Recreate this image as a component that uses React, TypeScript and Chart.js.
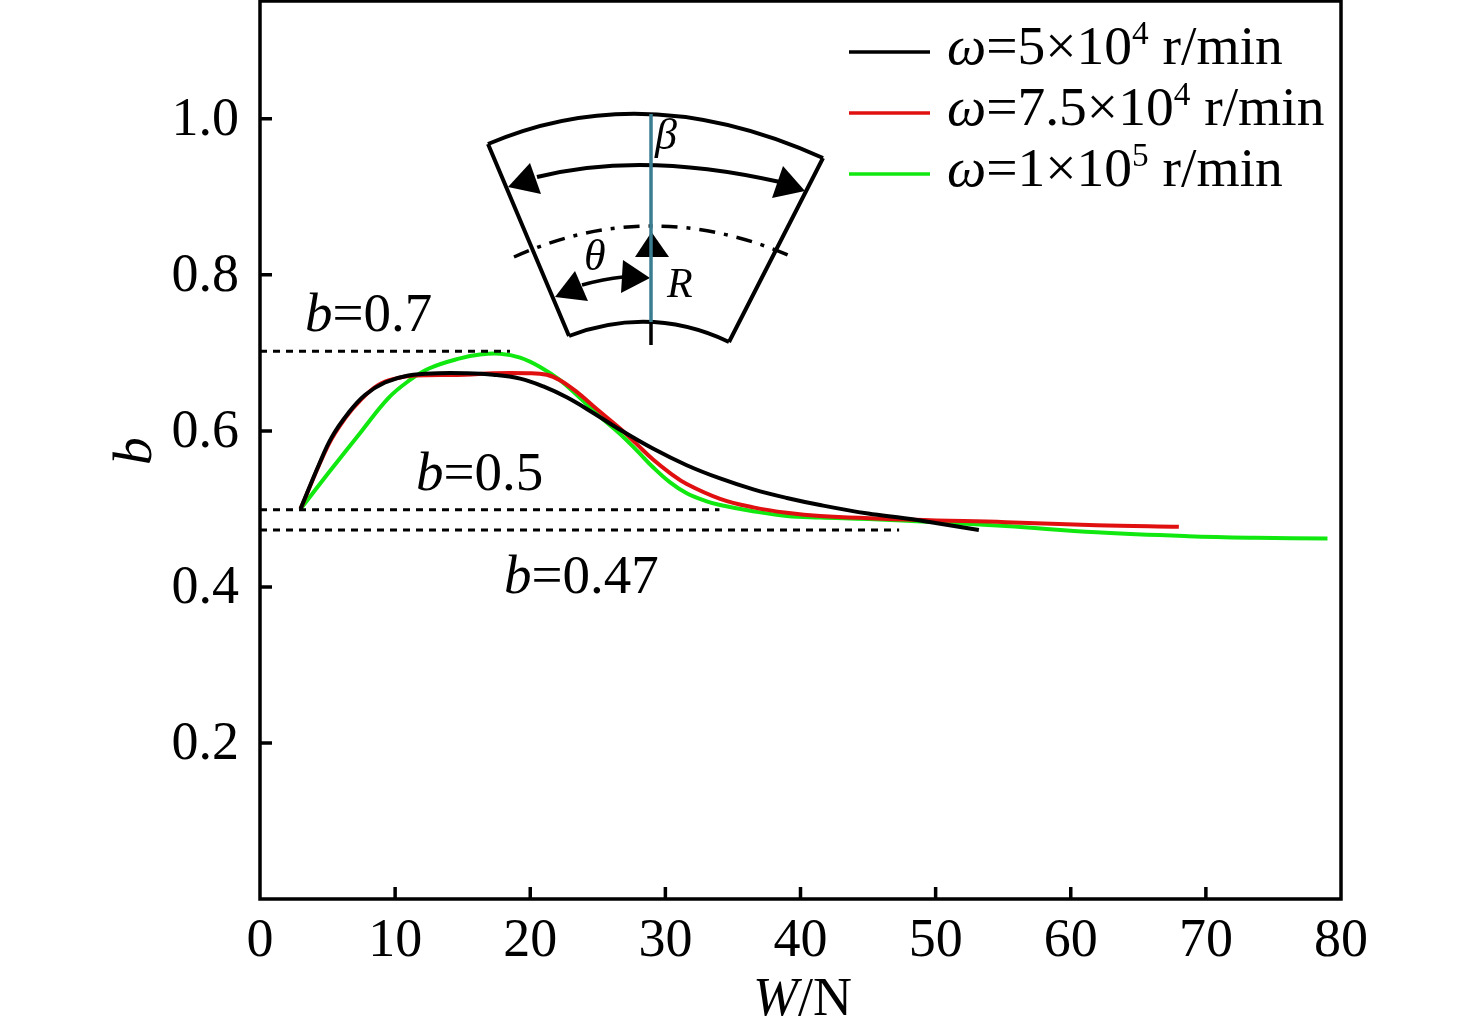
import React, { useEffect, useRef } from "react";
import { Chart, registerables } from "chart.js";

Chart.register(...registerables);

const xTicks = [0, 10, 20, 30, 40, 50, 60, 70, 80];
const yTicks = [0, 0.2, 0.4, 0.6, 0.8, 1.0];

const w5x = [3, 4.32, 5.31, 6.54, 7.77, 9.25, 10.98, 13.2, 15.17, 17.27, 19.25, 20.97, 22.7, 24.67, 26.4, 29.11, 31.58, 34.05, 36.51, 38.99, 41.45, 45, 47.7, 50, 53.2];
const w5y = [0.5, 0.555, 0.592, 0.623, 0.646, 0.662, 0.671, 0.674, 0.674, 0.672, 0.667, 0.657, 0.643, 0.623, 0.604, 0.577, 0.556, 0.539, 0.525, 0.514, 0.505, 0.494, 0.488, 0.482, 0.473];

const w75x = [3, 5.06, 6.29, 7.53, 8.76, 9.99, 11.47, 15.17, 17.27, 19.74, 21.22, 22.2, 23.44, 24.92, 26.65, 27.88, 29.11, 30.35, 31.58, 34.05, 36.51, 38.99, 41.45, 48.4, 55.2, 61.9, 68];
const w75y = [0.5, 0.582, 0.616, 0.641, 0.659, 0.667, 0.671, 0.672, 0.674, 0.674, 0.672, 0.665, 0.65, 0.628, 0.603, 0.583, 0.563, 0.546, 0.532, 0.513, 0.502, 0.495, 0.491, 0.486, 0.483, 0.479, 0.477];

const w100x = [3, 5.06, 7.53, 9.5, 11, 12.5, 14.8, 16.28, 17.76, 19.25, 20.73, 22.2, 23.69, 25.17, 26.65, 27.88, 29.11, 30.35, 31.58, 33, 34.05, 36.49, 38.99, 41.45, 45, 50, 55.2, 61.9, 68.7, 73.7, 79];
const w100y = [0.5, 0.546, 0.6, 0.642, 0.664, 0.68, 0.693, 0.698, 0.699, 0.694, 0.682, 0.665, 0.642, 0.618, 0.596, 0.575, 0.553, 0.534, 0.52, 0.51, 0.505, 0.497, 0.491, 0.489, 0.487, 0.483, 0.478, 0.47, 0.465, 0.463, 0.462];

const refX07 = [0, 18.5];
const refY07 = [0.702, 0.702];
const refX05 = [0, 34];
const refY05 = [0.499, 0.499];
const refX047 = [0, 47.3];
const refY047 = [0.473, 0.473];

const seriesBase = ["5", "7.5", "1"];
const seriesExp = ["4", "4", "5"];
const seriesColors = ["#000000", "#e01010", "#10e810"];

const zip = (xs: number[], ys: number[]) => xs.map((x, i) => ({ x, y: ys[i] }));

const SERIF = '"Liberation Serif"';
const FS = 54;
const LFS = 55.5;

type Run = { t: string; i?: boolean; sup?: boolean };

function drawRuns(ctx: CanvasRenderingContext2D, runs: Run[], x: number, y: number, size = LFS) {
  let cx = x;
  ctx.textAlign = "left";
  ctx.textBaseline = "alphabetic";
  ctx.fillStyle = "#000";
  for (const r of runs) {
    const s = r.sup ? size * 0.6 : size;
    ctx.font = `${r.i ? "italic " : ""}${s}px ${SERIF}`;
    ctx.fillText(r.t, cx, r.sup ? y - size * 0.36 : y);
    cx += ctx.measureText(r.t).width;
  }
}

function arcPath(ctx: CanvasRenderingContext2D, a: number[], m: number[], b: number[]) {
  const cx = 2 * m[0] - (a[0] + b[0]) / 2;
  const cy = 2 * m[1] - (a[1] + b[1]) / 2;
  ctx.beginPath();
  ctx.moveTo(a[0], a[1]);
  ctx.quadraticCurveTo(cx, cy, b[0], b[1]);
  ctx.stroke();
}

function tri(ctx: CanvasRenderingContext2D, p: number[][]) {
  ctx.beginPath();
  ctx.moveTo(p[0][0], p[0][1]);
  ctx.lineTo(p[1][0], p[1][1]);
  ctx.lineTo(p[2][0], p[2][1]);
  ctx.closePath();
  ctx.fill();
}

function drawInset(ctx: CanvasRenderingContext2D) {
  ctx.save();
  ctx.strokeStyle = "#000";
  ctx.fillStyle = "#000";
  ctx.lineWidth = 4;
  ctx.lineJoin = "miter";
  arcPath(ctx, [488, 144], [650, 114], [823, 158]);
  arcPath(ctx, [569, 336], [650, 322], [729, 342]);
  ctx.beginPath();
  ctx.moveTo(488, 144);
  ctx.lineTo(569, 336);
  ctx.moveTo(823, 158);
  ctx.lineTo(729, 342);
  ctx.stroke();
  arcPath(ctx, [537, 177], [650, 165], [780, 182]);
  tri(ctx, [[508, 187], [530, 163], [541, 194]]);
  tri(ctx, [[805, 191], [783, 166], [772, 198]]);
  ctx.lineWidth = 3.5;
  ctx.setLineDash([16, 9, 4, 9]);
  arcPath(ctx, [514, 257], [650, 226], [788, 255]);
  ctx.setLineDash([]);
  arcPath(ctx, [582, 285], [603, 280], [623, 277]);
  tri(ctx, [[555, 297], [575, 271], [588, 301]]);
  tri(ctx, [[650, 278], [623, 260], [621, 293]]);
  tri(ctx, [[635, 257], [669, 257], [651.5, 232]]);
  ctx.lineWidth = 3.5;
  ctx.strokeStyle = "#000";
  ctx.beginPath();
  ctx.moveTo(651, 322);
  ctx.lineTo(651, 345);
  ctx.stroke();
  ctx.strokeStyle = "#3a7d92";
  ctx.beginPath();
  ctx.moveTo(651, 114);
  ctx.lineTo(651, 322);
  ctx.stroke();
  drawRuns(ctx, [{ t: "β", i: true }], 655, 149, 44);
  drawRuns(ctx, [{ t: "θ", i: true }], 584, 270, 44);
  drawRuns(ctx, [{ t: "R", i: true }], 667, 297, 42);
  ctx.restore();
}

const decor = {
  id: "decor",
  afterDatasetsDraw(chart: any) {
    const { ctx, chartArea: a, scales } = chart;
    ctx.save();
    ctx.strokeStyle = "#000";
    ctx.lineWidth = 3.5;
    ctx.setLineDash([]);
    ctx.strokeRect(a.left, a.top, a.right - a.left, a.bottom - a.top);
    ctx.beginPath();
    for (const v of xTicks.slice(1, -1)) {
      const p = scales.x.getPixelForValue(v);
      ctx.moveTo(p, a.bottom);
      ctx.lineTo(p, a.bottom - 12);
    }
    for (const v of yTicks.slice(1)) {
      const p = scales.y.getPixelForValue(v);
      ctx.moveTo(a.left, p);
      ctx.lineTo(a.left + 12, p);
    }
    ctx.stroke();

    // legend
    const legendY = [52, 113, 174];
    const legendBase = [64, 125, 186];
    seriesBase.forEach((b, i) => {
      ctx.strokeStyle = seriesColors[i];
      ctx.lineWidth = 3.5;
      ctx.beginPath();
      ctx.moveTo(849, legendY[i]);
      ctx.lineTo(930, legendY[i]);
      ctx.stroke();
      drawRuns(
        ctx,
        [
          { t: "ω", i: true },
          { t: `=${b}×10` },
          { t: seriesExp[i], sup: true },
          { t: " r/min" },
        ],
        947,
        legendBase[i]
      );
    });

    // annotations
    drawRuns(ctx, [{ t: "b", i: true }, { t: "=0.7" }], 305, 331, 55);
    drawRuns(ctx, [{ t: "b", i: true }, { t: "=0.5" }], 416, 490, 55);
    drawRuns(ctx, [{ t: "b", i: true }, { t: "=0.47" }], 504, 593, 55);

    // axis titles
    drawRuns(ctx, [{ t: "W", i: true }, { t: "/N" }], 753, 1015, 54);
    ctx.save();
    ctx.translate(151, 465);
    ctx.rotate(-Math.PI / 2);
    drawRuns(ctx, [{ t: "b", i: true }], 0, 0);
    ctx.restore();

    drawInset(ctx);
    ctx.restore();
  },
};

export default function App() {
  const ref = useRef<HTMLCanvasElement | null>(null);
  useEffect(() => {
    if (!ref.current) return;
    const line = (data: any[], color: string, width: number, tension: number, dash?: number[]) => ({
      data,
      borderColor: color,
      borderWidth: width,
      pointRadius: 0,
      fill: false,
      borderDash: dash || [],
      tension,
    });
    const chart = new Chart(ref.current, {
      type: "line",
      data: {
        datasets: [
          line(zip(refX07, refY07), "#000", 3, 0, [7, 6]),
          line(zip(refX05, refY05), "#000", 3, 0, [7, 6]),
          line(zip(refX047, refY047), "#000", 3, 0, [7, 6]),
          { ...line(zip(w5x, w5y), seriesColors[0], 4, 0.4), label: "ω=5×10⁴ r/min" },
          { ...line(zip(w75x, w75y), seriesColors[1], 4, 0.4), label: "ω=7.5×10⁴ r/min" },
          { ...line(zip(w100x, w100y), seriesColors[2], 4, 0.4), label: "ω=1×10⁵ r/min" },
        ] as any,
      },
      options: {
        animation: false,
        responsive: false,
        devicePixelRatio: 1,
        layout: { padding: { top: 1, right: 135, left: 0, bottom: 0 } },
        plugins: { legend: { display: false }, tooltip: { enabled: false } },
        scales: {
          x: {
            type: "linear",
            min: 0,
            max: 80,
            afterFit: (s: any) => {
              s.height = 135;
              s.paddingLeft = 0;
              s.paddingRight = 0;
            },
            afterBuildTicks: (s: any) => {
              s.ticks = xTicks.map((value) => ({ value }));
            },
            grid: { display: false, drawTicks: false },
            border: { display: false },
            ticks: {
              autoSkip: false,
              maxRotation: 0,
              padding: 10,
              color: "#000",
              font: { family: "Liberation Serif", size: FS },
              callback: (v: any) => String(v),
            },
          },
          y: {
            type: "linear",
            min: 0,
            max: 1.151,
            afterFit: (s: any) => {
              s.width = 260;
              s.paddingTop = 0;
              s.paddingBottom = 0;
            },
            afterBuildTicks: (s: any) => {
              s.ticks = yTicks.map((value) => ({ value }));
            },
            grid: { display: false, drawTicks: false },
            border: { display: false },
            ticks: {
              autoSkip: false,
              padding: 21,
              labelOffset: 2,
              color: "#000",
              font: { family: "Liberation Serif", size: FS },
              callback: (v: any) => (v === 0 ? "" : Number(v).toFixed(1)),
            },
          },
        },
      } as any,
      plugins: [decor],
    });
    return () => chart.destroy();
  }, []);
  return (
    <div style={{ position: "fixed", left: 0, top: 0, width: 1476, height: 1034, background: "#fff" }}>
      <canvas ref={ref} width={1476} height={1034} style={{ display: "block" }} />
    </div>
  );
}
